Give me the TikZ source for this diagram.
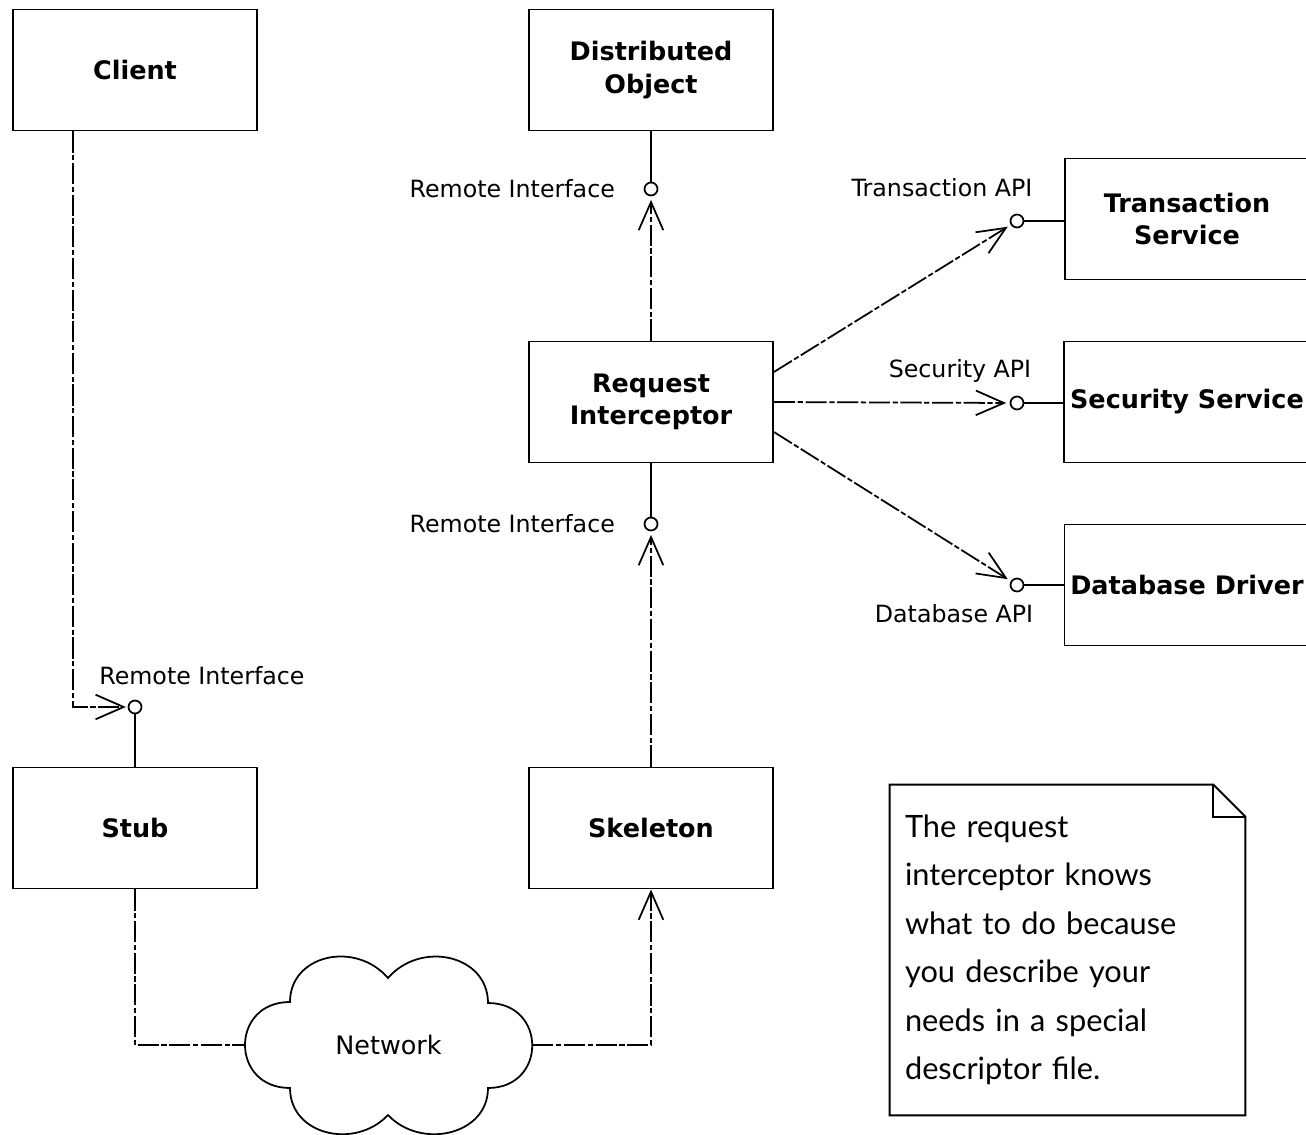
\documentclass[tikz,border=0pt]{standalone}
\usepackage{fontspec}
\setmainfont{DejaVu Sans}
\newfontfamily\notefont{Lato}
\usepackage{tikz}
\usetikzlibrary{positioning, arrows.meta}
\tikzset{
  comp/.style={draw, line width=1.1pt, minimum width=4.88cm, minimum height=2.42cm, align=center, font=\fontsize{14.5}{18.5}\selectfont\bfseries},
  iface/.style={draw, circle, line width=1pt, minimum size=0.26cm, inner sep=0pt},
  lbl/.style={font=\fontsize{13.5}{16}\selectfont},
  link/.style={line width=1pt},
  dep/.style={line width=1pt, dash pattern=on 12pt off 1.5pt on 3pt off 1.5pt, -{Straight Barb[length=16pt,width=14pt]}},
  depline/.style={line width=1pt, dash pattern=on 12pt off 1.5pt on 3pt off 1.5pt},
}

\begin{document}
\begin{tikzpicture}[x=0.02cm, y=-0.02cm]
\useasboundingbox (0,0) rectangle (1306,1135);
\clip (0,0) rectangle (1306,1135);

\node[comp] (client) at (135,70) {Client};
\node[comp] (dobj) at (651,70) {Distributed\\Object};
\node[comp] (ri) at (651,402) {Request\\Interceptor};
\node[comp] (stub) at (135,828) {Stub};
\node[comp] (skel) at (651,828) {Skeleton};
\node[comp] (ts) at (1187,219) {Transaction\\Service};
\node[comp] (ss) at (1187,402) {Security Service};
\node[comp] (dd) at (1187,585) {Database Driver};

\node[iface] (doI) at (651,189) {};
\node[iface] (riI) at (651,524) {};
\node[iface] (stubI) at (135,707) {};
\node[iface] (tsI) at (1017,221) {};
\node[iface] (ssI) at (1017,403) {};
\node[iface] (ddI) at (1017,585) {};

\node[lbl, left=0.45cm of doI] (doL) {Remote Interface};
\node[lbl, left=0.45cm of riI] (riL) {Remote Interface};
\node[lbl] (stubL) at ([xshift=1.34cm,yshift=0.62cm]stubI) {Remote Interface};
\node[lbl] (tsL) at ([xshift=-1.5cm,yshift=0.66cm]tsI) {Transaction API};
\node[lbl] (ssL) at ([xshift=-1.14cm,yshift=0.64cm]ssI) {Security API};
\node[lbl] (ddL) at ([xshift=-1.26cm,yshift=-0.58cm]ddI) {Database API};

\draw[link] (dobj) -- (doI);
\draw[link] (ri) -- (riI);
\draw[link] (stub) -- (stubI);
\draw[link] (tsI) -- (tsI -| ts.west);
\draw[link] (ssI) -- (ssI -| ss.west);
\draw[link] (ddI) -- (ddI -| dd.west);

\draw[dep, shorten >=2pt] (ri) -- (doI);
\draw[dep, shorten >=2pt] (skel) -- (riI);
\draw[dep, shorten >=1pt] ([xshift=-1.24cm]client.south) |- (stubI.west);
\draw[dep, shorten >=2pt] ([yshift=0.6cm]ri.east) -- (tsI);
\draw[dep, shorten >=2pt] (ri.east) -- (ssI.west);
\draw[dep, shorten >=2pt] ([yshift=-0.6cm]ri.east) -- (ddI);

% network cloud
\draw[line width=1pt] (290,1088) .. controls (230,1088) and (230,1002) .. (290,1002)
  .. controls (290,955) and (355,940) .. (388,978)
  .. controls (421,940) and (488,955) .. (488,1003)
  .. controls (547,1003) and (547,1088) .. (488,1088)
  .. controls (488,1135) and (421,1150) .. (388,1115)
  .. controls (355,1150) and (290,1135) .. (290,1088) -- cycle;
\node[font=\fontsize{14.5}{17}\selectfont, minimum width=5.74cm, minimum height=3.4cm, inner sep=0pt] (net) at (388.5,1045) {Network};

\draw[depline] (stub) |- (net.west);
\draw[dep] (net.east) -| (skel);

% note
\node[font=\notefont\fontsize{17.5}{27.6}\selectfont, text width=6.5cm, minimum width=7.1cm, minimum height=6.6cm, align=left, inner sep=0.3cm] (note) at (1067.5,950)
  {The request\\interceptor knows\\what to do because\\you describe your\\needs in a special\\descriptor file.};
\draw[line width=1.1pt] (note.north west) -- ([xshift=-0.64cm]note.north east) -- ([yshift=-0.64cm]note.north east) -- (note.south east) -- (note.south west) -- cycle;
\draw[line width=1pt] ([xshift=-0.64cm]note.north east) |- ([yshift=-0.64cm]note.north east);
\end{tikzpicture}
\end{document}
